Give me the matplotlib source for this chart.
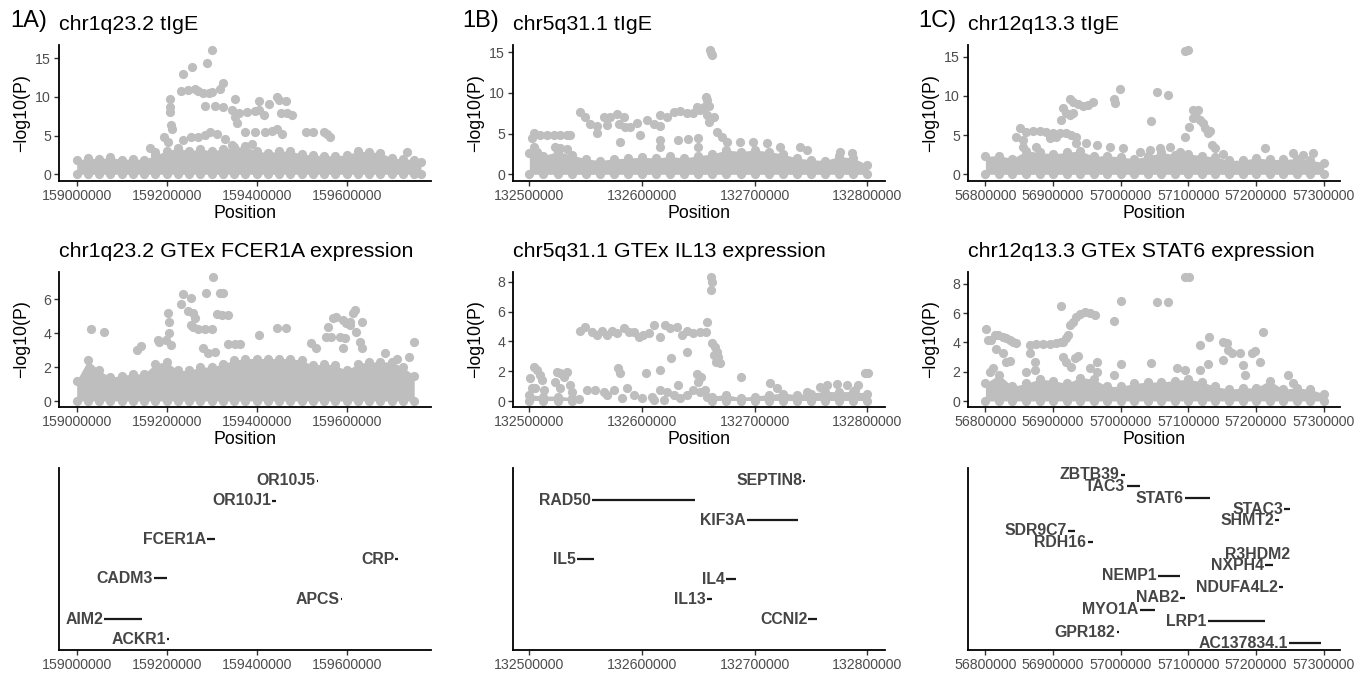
"""Regional association plots: tIgE GWAS, GTEx eQTL and gene tracks for three loci."""

import matplotlib
matplotlib.use('Agg')
import matplotlib.pyplot as plt
from matplotlib.ticker import FixedLocator, NullLocator
import numpy as np

plt.rcParams.update({
    'font.family': ['Liberation Sans', 'DejaVu Sans'],
    'axes.unicode_minus': True,
})

POINT_COLOR = '#BEBEBE'
POINT_SIZE = 44
TICK_TEXT = '#4D4D4D'
GENE_TEXT = '#454545'

# ---------------------------------------------------------------- 1A chr1q23.2
TIGE1_POS = [159299600, 159290600, 159256200, 159236000, 159324400, 159318400,
             159232000, 159247000, 159262000, 159270000, 159281000, 159294000, 159301000,
             159207500, 159207500, 159207500, 159352000,
             159285000, 159307000, 159326000, 159345000, 159361000, 159352000, 159356000,
             159378000, 159397000, 159416000, 159405000, 159427000, 159445000, 159449000,
             159464000, 159453000, 159468000, 159478000, 159405000,
             159210000, 159211000, 159195000, 159202000,
             159236000, 159255000, 159270000, 159285000, 159296000, 159311000,
             159374000, 159397000, 159419000, 159434000, 159445000, 159457000,
             159509000, 159524000, 159550000, 159557000, 159563000,
             159330000, 159345000, 159390000, 159162500, 159173700, 159734000]
TIGE1_LOGP = [16.08, 14.44, 13.84, 12.97, 11.77, 10.99,
              10.82, 10.90, 10.99, 10.80, 10.47, 10.56, 10.65,
              9.74, 8.75, 8.10, 9.70,
              8.84, 8.84, 8.66, 8.32, 7.97, 7.46, 6.68,
              8.10, 8.19, 7.67, 8.30, 9.05, 9.96, 9.60,
              9.53, 7.89, 7.95, 7.67, 9.48,
              6.38, 5.82, 4.87, 4.22,
              4.44, 4.87, 4.87, 5.09, 5.43, 5.22,
              5.52, 5.52, 5.52, 5.65, 5.82, 5.22,
              5.52, 5.52, 5.52, 5.17, 4.78,
              4.53, 3.79, 3.88, 3.45, 2.93, 2.93]
TIGE1_BAND_POS = [159000000, 159025000, 159050000, 159075000, 159100000, 159125000,
                  159150000, 159175000, 159200000, 159225000, 159250000, 159275000,
                  159300000, 159325000, 159350000, 159375000, 159400000, 159425000,
                  159450000, 159475000, 159500000, 159525000, 159550000, 159575000,
                  159600000, 159625000, 159650000, 159675000, 159700000, 159725000,
                  159750000, 159765000]
TIGE1_BAND_TOP = [1.8, 2.1, 2.0, 2.2, 1.9, 2.0, 1.9, 2.5, 3.0, 3.4, 3.0, 3.3,
                  3.0, 3.3, 3.5, 3.6, 3.0, 2.8, 3.0, 3.0, 2.6, 2.5, 2.4, 2.4,
                  2.5, 3.0, 2.9, 2.8, 2.1, 2.0, 1.9, 1.6]

# ---------------------------------------------------------------- 1B chr5q31.1
TIGE5_POS = [132660500, 132661100, 132662000, 132657000, 132657600, 132659100, 132654600,
             132648700, 132663500, 132657600, 132659100,
             132616200, 132622100, 132628000, 132633900, 132639800, 132645700, 132651600,
             132589600, 132595500, 132604300, 132610300, 132616200, 132597800,
             132545200, 132549700, 132554100, 132560000, 132565900, 132571800, 132577700,
             132583700, 132585100, 132579200, 132560000, 132568900, 132580100,
             132503800, 132509800, 132515700, 132521600, 132527500, 132533400, 132536400,
             132502400, 132503800, 132506800, 132523100, 132527500, 132533400,
             132616200, 132615600, 132632400, 132640700, 132649300, 132649300,
             132666400, 132670900, 132675300, 132687100, 132698900, 132710800, 132722600,
             132740300, 132746200, 132775800, 132786100]
TIGE5_LOGP = [15.28, 14.88, 14.67, 9.55, 9.14, 8.40, 8.32,
              8.32, 7.09, 7.29, 6.47,
              7.29, 7.00, 7.70, 7.83, 7.50, 7.50, 7.91,
              5.86, 6.27, 6.68, 6.19, 5.94, 4.84,
              7.70, 7.00, 6.19, 5.94, 7.09, 7.09, 7.42,
              7.09, 5.86, 6.19, 5.04, 6.07, 4.02,
              5.04, 4.84, 4.84, 4.84, 4.84, 4.84, 4.84,
              4.43, 3.40, 2.79, 3.40, 3.20, 3.07,
              4.22, 3.40, 4.22, 4.30, 4.43, 3.40,
              5.25, 4.63, 4.02, 4.02, 4.02, 3.89, 3.40,
              3.40, 2.99, 2.79, 2.58]
TIGE5_BAND_POS = [132500000, 132512500, 132525000, 132537500, 132550000, 132562500,
                  132575000, 132587500, 132600000, 132612500, 132625000, 132637500,
                  132650000, 132662500, 132675000, 132687500, 132700000, 132712500,
                  132725000, 132737500, 132750000, 132762500, 132775000, 132787500,
                  132800000]
TIGE5_BAND_TOP = [2.6, 2.3, 2.8, 2.4, 1.9, 1.7, 1.9, 2.0, 2.1, 2.0, 2.2, 2.0,
                  2.3, 2.5, 3.0, 2.8, 3.0, 2.8, 2.5, 2.0, 1.8, 1.7, 2.2, 2.0, 1.2]

# --------------------------------------------------------------- 1C chr12q13.3
TIGE12_POS = [57094900, 57099800, 56998700, 57053900, 57069200, 56989800, 56991300,
              56924800, 56929700, 56937100, 56944500, 56951900, 56959300, 56914900,
              56919800, 56924800, 56929700, 56912400, 57044100,
              57107200, 57114600, 57111100, 57117100, 57122000, 57124500, 57129400,
              57131900, 57107200, 57101300, 57094900, 57134300, 57139300, 57151600,
              56850800, 56860700, 56870500, 56880400, 56890200, 56900100, 56910000,
              56919800, 56927200, 56934600, 56905000, 56895200, 56845900, 56855700,
              56855700, 56875400, 56934600, 56949400, 56964200, 56983900, 57003600,
              57028300, 57043100, 57057900, 57072700, 57087500,
              57213200, 57255100, 57269900, 57284700]
TIGE12_LOGP = [15.76, 15.85, 10.83, 10.54, 10.11, 9.56, 9.14,
               9.56, 9.26, 8.97, 8.71, 8.84, 9.26, 8.41,
               7.78, 7.56, 7.78, 6.93, 6.84,
               8.20, 8.20, 7.35, 6.93, 6.50, 5.86, 5.23,
               5.57, 7.14, 6.08, 4.80, 3.74, 3.31, 2.59,
               5.86, 5.44, 5.57, 5.52, 5.44, 5.23, 5.31,
               5.23, 5.01, 4.80, 4.80, 4.59, 4.80, 4.38,
               3.53, 3.53, 3.95, 3.95, 3.74, 3.53, 3.31,
               2.89, 3.10, 3.31, 3.53, 2.89,
               3.31, 2.68, 2.46, 2.76]
TIGE12_BAND_POS = [56800000, 56820000, 56840000, 56860000, 56880000, 56900000,
                   56920000, 56940000, 56960000, 56980000, 57000000, 57020000,
                   57040000, 57060000, 57080000, 57100000, 57120000, 57140000,
                   57160000, 57180000, 57200000, 57220000, 57240000, 57260000,
                   57280000, 57300000]
TIGE12_BAND_TOP = [2.3, 2.4, 2.0, 3.0, 2.8, 2.6, 2.8, 3.0, 2.3, 2.4, 2.2, 2.0,
                   2.3, 2.8, 2.5, 2.6, 2.4, 2.2, 1.8, 1.8, 2.1, 1.9, 1.9, 2.0,
                   1.8, 1.5]

# ------------------------------------------------------- 2A GTEx FCER1A eQTL
FCER1A_POS = [159303400, 159236000, 159230700, 159254700, 159288400, 159318400, 159325900,
              159247200, 159258400, 159262200, 159254700, 159258400, 159269700, 159284700,
              159299600, 159310900, 159322100, 159337100, 159202300, 159206000, 159206000,
              159198500, 159183500, 159179800, 159209700, 159142300, 159134800, 159031500,
              159061400, 159280900, 159292200, 159307100, 159337100, 159352100, 159363300,
              159404500, 159445700, 159464400, 159520600, 159531900,
              159558100, 159569300, 159576800, 159591800, 159599300, 159606800, 159614300,
              159618000, 159606800, 159633000, 159554300, 159565600, 159584300, 159595500,
              159591800, 159621700, 159629200, 159633000, 159749100,
              159685400, 159711600, 159737900]
FCER1A_LOGP = [7.31, 6.27, 5.68, 6.04, 6.33, 6.33, 6.33,
               5.29, 5.15, 4.86, 4.47, 4.37, 4.23, 4.23,
               4.23, 5.10, 5.06, 5.06, 5.15, 4.66, 3.98,
               3.59, 3.45, 3.59, 3.29, 3.25, 3.00, 4.23,
               4.04, 3.14, 2.80, 2.86, 3.33, 3.33, 3.33,
               3.88, 4.31, 4.31, 3.39, 3.10,
               4.37, 4.86, 4.96, 4.76, 4.57, 4.66, 5.15,
               5.35, 4.47, 4.66, 3.78, 3.78, 3.78, 3.68,
               3.10, 4.08, 3.49, 3.10, 3.45,
               2.80, 2.50, 2.60]
FCER1A_BAND_POS = TIGE1_BAND_POS[:31]
FCER1A_BAND_TOP = [1.2, 2.4, 1.8, 1.4, 1.5, 1.6, 1.6, 2.2, 2.3, 1.8, 1.8, 2.0,
                   2.0, 2.2, 2.4, 2.5, 2.5, 2.5, 2.5, 2.5, 2.4, 2.1, 2.2, 2.1,
                   1.8, 2.2, 2.3, 2.3, 2.3, 2.0, 1.5]

# --------------------------------------------------------- 2B GTEx IL13 eQTL
IL13_POS = [132661400, 132662000, 132661100,
            132545200, 132549700, 132555600, 132560000, 132564400, 132568900, 132573300,
            132577700, 132583700, 132588100, 132592500, 132597000, 132600800, 132605800,
            132610300, 132616200, 132620600, 132625000, 132631000, 132635400, 132639800,
            132645700, 132651600, 132657000, 132657600,
            132662000, 132664900, 132666400, 132663500, 132667900, 132665800, 132669400,
            132639800, 132625600, 132615600, 132603800, 132578300, 132580100, 132586600,
            132632400, 132648700, 132652200, 132649300, 132688000,
            132500900, 132503800, 132506800, 132509800, 132511200, 132505300, 132502400,
            132512700, 132524500, 132527500, 132530400, 132533400, 132523100, 132527500,
            132536400, 132537800,
            132543700, 132551100, 132558500, 132565900, 132568900, 132574800, 132582200,
            132592500, 132599900, 132608800, 132616200, 132622100, 132628000, 132610300,
            132619100, 132633900, 132639800, 132645700, 132651600, 132657600, 132656100,
            132713700, 132719600, 132746200, 132798000, 132800900, 132792100, 132758100,
            132764000, 132772800, 132781700, 132789100]
IL13_LOGP = [8.34, 7.96, 7.44,
             4.69, 4.98, 4.65, 4.43, 4.69, 4.43, 4.69,
             4.54, 4.87, 4.65, 4.65, 4.31, 4.43, 4.54,
             5.10, 4.31, 5.10, 4.87, 4.98, 4.43, 4.69,
             4.54, 4.65, 4.65, 5.32,
             3.87, 3.64, 3.31, 3.08, 2.97, 2.64, 2.53,
             3.26, 2.86, 2.08, 1.86, 2.19, 1.86, 0.85,
             1.07, 1.79, 1.63, 1.30, 1.63,
             1.52, 2.30, 2.08, 1.74, 1.41, 0.85, 0.85,
             0.74, 1.97, 1.86, 1.63, 1.97, 1.30, 0.85,
             1.07, 0.63,
             0.13, 0.74, 0.74, 0.63, 0.40, 0.74, 0.18,
             0.40, 0.18, 0.29, 0.74, 0.63, 0.40, 0.07,
             0.07, 0.18, 0.40, 0.74, 0.63, 0.29, 0.74,
             1.18, 0.85, 0.63, 1.86, 1.86, 1.07, 0.96,
             1.07, 1.12, 1.07, 0.74]
IL13_BAND_POS = TIGE5_BAND_POS
IL13_BAND_TOP = [0.4, 0.3, 0.3, 0.2, np.nan, np.nan, np.nan, np.nan, np.nan, np.nan,
                 np.nan, np.nan, np.nan, 0.3, 0.4, 0.2, 0.3, 0.4, 0.5, 0.4,
                 0.5, 0.6, 0.6, 0.6, 0.5]

# -------------------------------------------------------- 2C GTEx STAT6 eQTL
STAT6_POS = [57094900, 57101300, 56911400, 56999700, 57053900, 57069200, 56989800,
             56924800, 56929700, 56934600, 56939500, 56946900, 56954300, 56961700,
             56922300, 56919800, 56914900, 56865600, 56875400, 56885300, 56895200,
             56905000, 56912400, 56800500, 56803900, 56808900, 56813800, 56818700,
             56826100, 56831100, 56836000, 56840900, 56844900, 56866600, 56816300,
             56826100, 56831100, 56836000, 56806400, 56811300, 56873000, 56860700,
             56873000, 56914900, 56919800, 56932200, 56937100, 56927200, 56954300,
             56964200, 56964200, 56999700, 57044100, 56989800, 57082500, 57094900,
             57117100, 57130400, 57129400, 57117100, 57151600, 57156500, 57159000,
             57163900, 57151600, 57176200, 57181200, 57183600, 57193500, 57198400,
             57205800, 57210800, 57246700, 57255100]
STAT6_LOGP = [8.46, 8.46, 6.50, 6.84, 6.75, 6.75, 5.47,
              5.20, 5.42, 5.77, 5.93, 6.06, 5.99, 5.88,
              4.51, 4.28, 4.06, 3.83, 3.87, 3.87, 3.87,
              3.94, 4.06, 4.92, 4.17, 4.17, 4.51, 4.51,
              4.40, 4.28, 4.17, 4.06, 3.94, 3.26, 3.56,
              3.26, 2.69, 2.73, 2.01, 2.23, 2.69, 2.01,
              2.12, 3.03, 2.69, 2.92, 3.10, 2.35, 2.23,
              2.64, 2.01, 2.51, 2.58, 1.78, 2.23, 2.12,
              3.83, 4.40, 2.51, 2.12, 4.06, 3.94, 3.49,
              3.26, 2.80, 3.26, 2.46, 1.78, 3.26, 3.42,
              2.69, 4.74, 1.78, 1.21]
STAT6_BAND_POS = TIGE12_BAND_POS
STAT6_BAND_TOP = [1.2, 1.8, 1.0, 1.2, 1.5, 1.4, 1.2, 1.6, 1.5, 1.0, 1.0, 1.2,
                  1.3, 1.3, 1.4, 1.5, 1.3, 1.0, 0.8, 0.9, 0.9, 1.4, 0.8, 0.9,
                  0.8, 0.5]

# ----------------------------------------------------------------- gene tracks
CHR1_GENE_NAMES = ['OR10J5', 'OR10J1', 'FCER1A', 'CRP', 'CADM3', 'APCS', 'AIM2', 'ACKR1']
CHR1_GENE_START = [159533600, 159434500, 159289300, 159708200, 159172000, 159586300,
                   159061400, 159200900]
CHR1_GENE_END = [159536900, 159442300, 159307700, 159714900, 159201600, 159589200,
                 159146000, 159204700]
CHR1_GENE_TRACK = [9.30, 8.20, 6.08, 4.98, 3.94, 2.80, 1.69, 0.60]

CHR5_GENE_NAMES = ['SEPTIN8', 'RAD50', 'KIF3A', 'IL5', 'IL4', 'IL13', 'CCNI2']
CHR5_GENE_START = [132743200, 132555600, 132693100, 132542300, 132674400, 132657600,
                   132747700]
CHR5_GENE_END = [132744300, 132647200, 132738300, 132557600, 132683300, 132662000,
                 132755700]
CHR5_GENE_TRACK = [9.30, 8.24, 7.14, 5.00, 3.90, 2.80, 1.70]

CHR12_GENE_NAMES = ['ZBTB39', 'TAC3', 'STAT6', 'STAC3', 'SHMT2', 'SDR9C7', 'RDH16',
                    'R3HDM2', 'NXPH4', 'NEMP1', 'NDUFA4L2', 'NAB2', 'MYO1A', 'LRP1',
                    'GPR182', 'AC137834.1']
CHR12_GENE_START = [57000100, 57008600, 57094800, 57241700, 57228000, 56922200, 56950900,
                    57252700, 57213200, 57055300, 57234300, 57087400, 57028300, 57128400,
                    56993800, 57248700]
CHR12_GENE_END = [57006100, 57028300, 57131800, 57250100, 57234300, 56933100, 56958300,
                  57253800, 57225400, 57087400, 57240200, 57094800, 57050400, 57213200,
                  56997200, 57295600]
CHR12_GENE_TRACK = [9.62, 9.01, 8.33, 7.74, 7.14, 6.56, 5.92, 5.26, 4.67, 4.07, 3.45,
                    2.87, 2.20, 1.59, 0.97, 0.37]

# ------------------------------------------------------------- axes settings
CHR1_TICKS = [159000000, 159200000, 159400000, 159600000]
CHR5_TICKS = [132500000, 132600000, 132700000, 132800000]
CHR12_TICKS = [56800000, 56900000, 57000000, 57100000, 57200000, 57300000]
CHR1_XLIM = (158960700, 159787300)
CHR5_XLIM = (132485500, 132815700)
CHR12_XLIM = (56774260, 57324100)

FIG_W, FIG_H = 1371, 675
COL_LEFT = [59, 513, 968]
COL_WIDTH = 372
ROW_BOX = [(45, 181), (272, 407), (468, 650)]  # top, bottom in pixels


def _axes(col, row):
    top, bottom = ROW_BOX[row]
    return [COL_LEFT[col] / FIG_W, 1 - bottom / FIG_H,
            COL_WIDTH / FIG_W, (bottom - top) / FIG_H]


def _style_axes(ax, xlim, xticks):
    for side in ('top', 'right'):
        ax.spines[side].set_visible(False)
    for side in ('left', 'bottom'):
        ax.spines[side].set_color('black')
        ax.spines[side].set_linewidth(1.3)
    ax.set_xlim(*xlim)
    ax.xaxis.set_major_locator(FixedLocator(xticks))
    ax.set_xticklabels([str(t) for t in xticks])
    ax.tick_params(axis='both', colors='#333333', labelcolor=TICK_TEXT,
                   labelsize=10.2, length=3.5, width=1.0, pad=2.2)


def plot_association(ax, pos, logp, band_pos, band_top, xlim, xticks, ylim, yticks, title):
    band_pos = np.asarray(band_pos, dtype=float)
    band_top = np.asarray(band_top, dtype=float)
    ok = np.isfinite(band_top)
    # the dense low-significance floor is drawn as a filled envelope with dots on its rim
    ax.fill_between(band_pos, 0, np.where(ok, band_top, 0), where=ok,
                    color=POINT_COLOR, linewidth=0, zorder=2)
    ax.scatter(band_pos[ok], band_top[ok], s=POINT_SIZE, color=POINT_COLOR,
               linewidths=0, zorder=2)
    ax.scatter(band_pos[ok], np.zeros(ok.sum()), s=POINT_SIZE, color=POINT_COLOR,
               linewidths=0, zorder=2)
    ax.scatter(pos, logp, s=POINT_SIZE, color=POINT_COLOR, linewidths=0, zorder=3)

    _style_axes(ax, xlim, xticks)
    ax.set_ylim(*ylim)
    ax.yaxis.set_major_locator(FixedLocator(yticks))
    ax.set_xlabel('Position', fontsize=12.8, va='top')
    ax.xaxis.set_label_coords(0.5, -24 / (ax.bbox.height))
    ax.set_ylabel('\u2212log10(P)', fontsize=12.8)
    ax.yaxis.set_label_coords(-0.078, 0.5)
    ax.set_title(title, loc='left', fontsize=15.4, pad=11)


def plot_genes(ax, names, start, end, track, xlim, xticks):
    ax.hlines(track, start, end, colors='#1a1a1a', linewidth=1.6, zorder=2)
    for name, x, y in zip(names, start, track):
        ax.annotate(name, (x, y), xytext=(-0.8, 0), textcoords='offset points',
                    ha='right', va='center', fontsize=11.4, fontweight='bold',
                    color=GENE_TEXT)
    _style_axes(ax, xlim, xticks)
    ax.set_ylim(0, 10)
    ax.yaxis.set_major_locator(NullLocator())


def main():
    fig = plt.figure(figsize=(FIG_W / 100, FIG_H / 100), dpi=100)

    assoc = [
        (0, 0, TIGE1_POS, TIGE1_LOGP, TIGE1_BAND_POS, TIGE1_BAND_TOP, CHR1_XLIM, CHR1_TICKS,
         (-0.87, 16.72), [0, 5, 10, 15], 'chr1q23.2 tIgE'),
        (1, 0, TIGE5_POS, TIGE5_LOGP, TIGE5_BAND_POS, TIGE5_BAND_TOP, CHR5_XLIM, CHR5_TICKS,
         (-0.82, 15.9), [0, 5, 10, 15], 'chr5q31.1 tIgE'),
        (2, 0, TIGE12_POS, TIGE12_LOGP, TIGE12_BAND_POS, TIGE12_BAND_TOP, CHR12_XLIM,
         CHR12_TICKS, (-0.85, 16.49), [0, 5, 10, 15], 'chr12q13.3 tIgE'),
        (0, 1, FCER1A_POS, FCER1A_LOGP, FCER1A_BAND_POS, FCER1A_BAND_TOP, CHR1_XLIM,
         CHR1_TICKS, (-0.35, 7.59), [0, 2, 4, 6], 'chr1q23.2 GTEx FCER1A expression'),
        (1, 1, IL13_POS, IL13_LOGP, IL13_BAND_POS, IL13_BAND_TOP, CHR5_XLIM, CHR5_TICKS,
         (-0.4, 8.65), [0, 2, 4, 6, 8], 'chr5q31.1 GTEx IL13 expression'),
        (2, 1, STAT6_POS, STAT6_LOGP, STAT6_BAND_POS, STAT6_BAND_TOP, CHR12_XLIM, CHR12_TICKS,
         (-0.41, 8.82), [0, 2, 4, 6, 8], 'chr12q13.3 GTEx STAT6 expression'),
    ]
    for col, row, pos, logp, bpos, btop, xlim, xticks, ylim, yticks, title in assoc:
        ax = fig.add_axes(_axes(col, row))
        plot_association(ax, pos, logp, bpos, btop, xlim, xticks, ylim, yticks, title)

    genes = [
        (0, CHR1_GENE_NAMES, CHR1_GENE_START, CHR1_GENE_END, CHR1_GENE_TRACK, CHR1_XLIM, CHR1_TICKS),
        (1, CHR5_GENE_NAMES, CHR5_GENE_START, CHR5_GENE_END, CHR5_GENE_TRACK, CHR5_XLIM, CHR5_TICKS),
        (2, CHR12_GENE_NAMES, CHR12_GENE_START, CHR12_GENE_END, CHR12_GENE_TRACK, CHR12_XLIM,
         CHR12_TICKS),
    ]
    for col, names, start, end, track, xlim, xticks in genes:
        ax = fig.add_axes(_axes(col, 2))
        plot_genes(ax, names, start, end, track, xlim, xticks)

    # panel tags
    for x_px, tag in zip([10, 462, 918], ['1A)', '1B)', '1C)']):
        fig.text(x_px / FIG_W, 1 - 27.5 / FIG_H, tag, fontsize=17, va='baseline', ha='left')

    fig.savefig('out.png', dpi=100)


if __name__ == '__main__':
    main()
